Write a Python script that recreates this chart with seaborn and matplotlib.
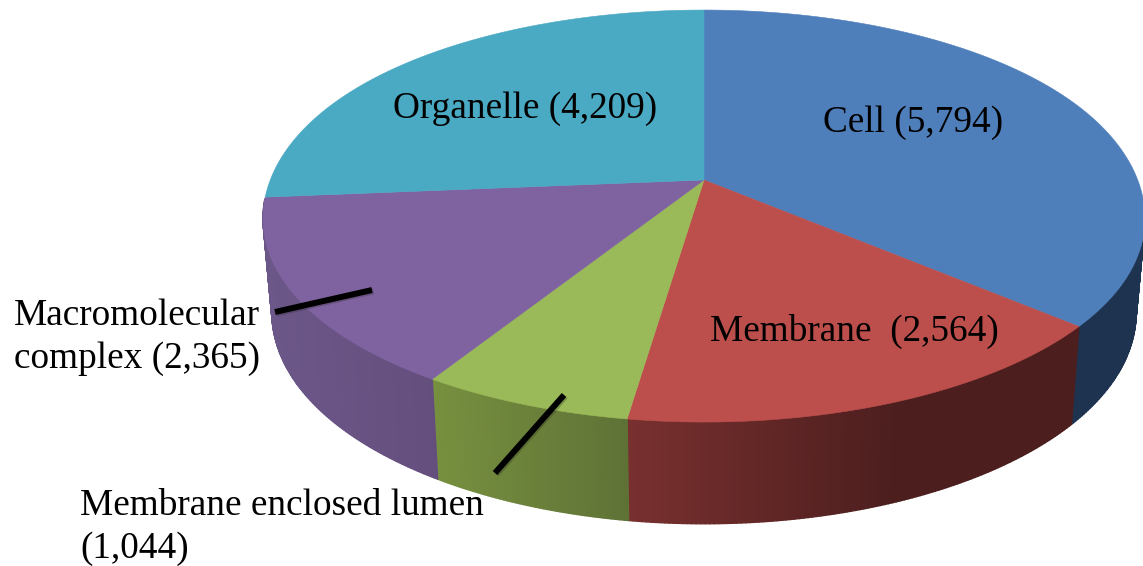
import numpy as np
import matplotlib
matplotlib.use("Agg")
import matplotlib.pyplot as plt
import seaborn as sns
from matplotlib.collections import PolyCollection
from matplotlib.colors import to_rgb
import matplotlib.patheffects as pe

# --- data ---
categories = ["Cell", "Membrane", "Membrane enclosed lumen", "Macromolecular complex", "Organelle"]
counts = [5794, 2564, 1044, 2365, 4209]

# --- style ---
top_colors = ["#4F7FBB", "#BC4F4C", "#9AB958", "#7F63A0", "#4AA9C3"]
side_left = ["#1D334F", "#78302F", "#77903F", "#6C5789", "#6C5789"]
side_right = ["#1D334F", "#4C1E1E", "#5F7236", "#634E7D", "#6C5789"]
grad_span = [(1070, 1143), (627, 900), (432, 627), (264, 440), (264, 704)]

sns.set_theme(style="white")
plt.rcParams["font.family"] = ["Liberation Serif", "DejaVu Serif"]

fig = plt.figure(figsize=(11.43, 5.66), dpi=100)
ax = fig.add_axes([0, 0, 1, 1])
ax.set_xlim(0, 1143)
ax.set_ylim(566, 0)
ax.axis("off")

# perspective view of the disc
CX, CY, A, B, K = 704.0, 180.0, 439.0, 199.7, 0.175


def top_xy(r, theta):
    u, v = r * np.sin(theta), r * np.cos(theta)
    d = 1 + K * v
    narrow = 1 - 0.012 * np.exp(-(v / 0.6) ** 2)
    return CX + A * narrow * u / d, CY - B * v / d


def bottom_xy(theta):
    x, y = top_xy(1.0, theta)
    return CX + 0.98 * (x - CX), 272 + 1.04 * (y - CY)


fractions = np.asarray(counts, dtype=float) / np.sum(counts)
edges = np.concatenate([[0], np.cumsum(fractions)]) * 2 * np.pi

# sides first, then the top face covers whatever lies behind it
for i in range(len(counts)):
    th = np.linspace(edges[i], edges[i + 1], int(fractions[i] * 720) + 2)
    xt, yt = top_xy(1.0, th)
    xb, yb = bottom_xy(th)
    polys, cols = [], []
    c0, c1 = np.array(to_rgb(side_left[i])), np.array(to_rgb(side_right[i]))
    lo, hi = grad_span[i]
    for j in range(len(th) - 1):
        if np.cos(th[j]) > -0.1:
            continue
        polys.append([(xt[j], yt[j]), (xt[j + 1], yt[j + 1]), (xb[j + 1], yb[j + 1]), (xb[j], yb[j])])
        f = np.clip(((xt[j] + xt[j + 1]) / 2 - lo) / (hi - lo), 0, 1)
        cols.append(c0 + (c1 - c0) * f)
    if polys:
        ax.add_collection(PolyCollection(polys, facecolors=cols, edgecolors=cols, linewidths=1.0, zorder=2))

for i in range(len(counts)):
    th = np.linspace(edges[i], edges[i + 1], int(fractions[i] * 720) + 2)
    xt, yt = top_xy(1.0, th)
    ax.fill(np.r_[CX, xt], np.r_[CY, yt], color=top_colors[i], lw=0.4, zorder=3)

# leader lines
shadow = [pe.SimpleLineShadow(offset=(1, -1), alpha=0.25, shadow_color="k"), pe.Normal()]
for xs, ys in [((275, 372), (312, 290)), ((495, 564), (473, 395))]:
    ax.plot(xs, ys, color="black", lw=4.3, solid_capstyle="butt", zorder=4, path_effects=shadow)

# labels
FS = 26.8
txt = dict(fontsize=FS, color="black", va="baseline", zorder=5)
ax.text(393, 118, f"{categories[4]} ({counts[4]:,})", ha="left", **txt)
ax.text(823, 132, f"{categories[0]} ({counts[0]:,})", ha="left", **txt)
ax.text(710, 341, f"{categories[1]}  ({counts[1]:,})", ha="left", **txt)
ax.text(260, 325, "Macromolecular", ha="right", **txt)
ax.text(260, 368, f"complex ({counts[3]:,})", ha="right", **txt)
ax.text(80, 515, categories[2], ha="left", **txt)
ax.text(80, 558, f"({counts[2]:,})", ha="left", **txt)

fig.savefig("out.png", dpi=100)
